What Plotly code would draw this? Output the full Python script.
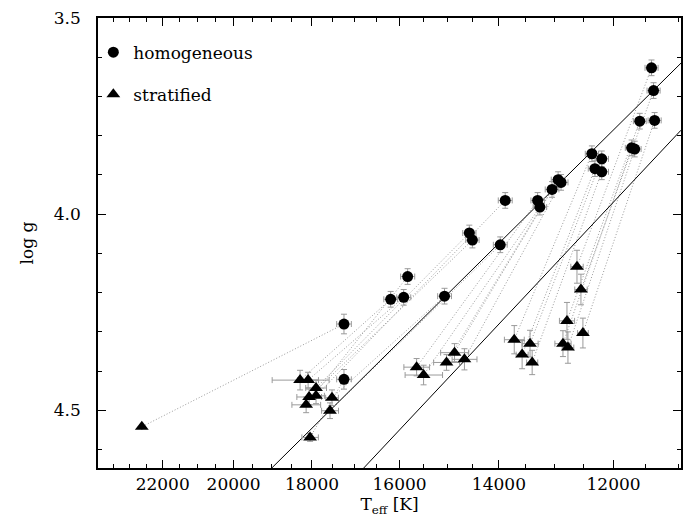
import math
import plotly.graph_objects as go

# ---- data (paired: index i of homogeneous <-> index i of stratified) ----
teff_hom = [17242, 17242, 16193, 15912, 15828, 15062, 14568, 14508, 13975, 13882,
            13290, 13250, 13035, 12929, 12878,
            12355, 12305, 12192, 12192, 11712, 11664, 11585, 11403, 11372, 11356]
logg_hom = [4.280, 4.421, 4.217, 4.212, 4.159, 4.209, 4.048, 4.066, 4.078, 3.965,
            3.965, 3.982, 3.937, 3.912, 3.919,
            3.846, 3.884, 3.859, 3.892, 3.831, 3.834, 3.763, 3.627, 3.685, 3.761]
eteff_hom = [170, 170, 150, 150, 150, 140, 130, 130, 130, 130,
             120, 120, 120, 120, 120,
             110, 110, 110, 110, 100, 100, 100, 100, 100, 100]
elogg_hom = [0.025, 0.025, 0.02, 0.02, 0.02, 0.02, 0.02, 0.02, 0.02, 0.02,
             0.02, 0.02, 0.02, 0.02, 0.02,
             0.02, 0.02, 0.02, 0.02, 0.02, 0.02, 0.02, 0.02, 0.02, 0.02]

teff_str = [22627, 18046, 18290, 18094, 18142, 17522, 17902, 18070, 17569, 17902,
            15638, 15492, 15022, 14861, 14664,
            13714, 13570, 13426, 13388, 12845, 12759, 12776, 12605, 12538, 12505]
logg_str = [4.542, 4.569, 4.423, 4.423, 4.486, 4.468, 4.443, 4.466, 4.501, 4.463,
            4.390, 4.410, 4.378, 4.353, 4.370,
            4.320, 4.358, 4.330, 4.378, 4.330, 4.340, 4.272, 4.134, 4.192, 4.303]
eteff_str = [0, 200, 700, 250, 350, 150, 250, 300, 200, 200,
             270, 390, 262, 280, 245,
             183, 110, 145, 100, 140, 100, 130, 105, 105, 90]
elogg_str = [0.0, 0.01, 0.025, 0.02, 0.02, 0.02, 0.02, 0.02, 0.02, 0.02,
             0.022, 0.025, 0.02, 0.023, 0.027,
             0.036, 0.036, 0.034, 0.031, 0.033, 0.04, 0.047, 0.042, 0.039, 0.038]

line1_teff = [19000, 10960]
line1_logg = [4.647, 3.615]
line2_teff = [16790, 10960]
line2_logg = [4.647, 3.786]

x_major = [22000, 20000, 18000, 16000, 14000, 12000]
x_minor = [v for v in range(11000, 24000, 500) if v not in x_major]
y_major = [3.5, 4.0, 4.5]
y_minor = [3.6, 3.7, 3.8, 3.9, 4.1, 4.2, 4.3, 4.4, 4.6]

FONT = "DejaVu Serif"
GRAY = "#9a9a9a"

# dotted connectors
cx, cy = [], []
for th, gh, ts, gs in zip(teff_hom, logg_hom, teff_str, logg_str):
    cx += [th, ts, None]
    cy += [gh, gs, None]

fig = go.Figure()
fig.add_trace(go.Scatter(x=cx, y=cy, mode="lines", showlegend=False,
                         line=dict(color=GRAY, width=1, dash="1px,2px"), hoverinfo="skip"))
fig.add_trace(go.Scatter(x=line1_teff, y=line1_logg, mode="lines", showlegend=False,
                         line=dict(color="black", width=1)))
fig.add_trace(go.Scatter(x=line2_teff, y=line2_logg, mode="lines", showlegend=False,
                         line=dict(color="black", width=1)))
fig.add_trace(go.Scatter(
    x=teff_hom, y=logg_hom, mode="markers", name="homogeneous", legendgroup="a",
    marker=dict(symbol="circle", size=11, color="black"),
    error_x=dict(type="data", array=eteff_hom, color=GRAY, thickness=1, width=3),
    error_y=dict(type="data", array=elogg_hom, color=GRAY, thickness=1, width=3)))
fig.add_trace(go.Scatter(
    x=teff_str, y=logg_str, mode="markers", name="stratified", legendgroup="b",
    marker=dict(symbol="triangle-up", size=12, color="black"),
    error_x=dict(type="data", array=eteff_str, color=GRAY, thickness=1, width=3),
    error_y=dict(type="data", array=elogg_str, color=GRAY, thickness=1, width=3)))

fig.update_layout(
    width=691, height=518,
    margin=dict(l=98, r=8, t=15, b=48),
    paper_bgcolor="white", plot_bgcolor="white",
    font=dict(family=FONT, size=17, color="black"),
    legend=dict(x=-0.008, y=0.963, xanchor="left", yanchor="top",
                bgcolor="rgba(0,0,0,0)", tracegroupgap=17,
                font=dict(family=FONT, size=17)),
    xaxis=dict(type="log", range=[math.log10(24000), math.log10(10960)],
               tickvals=x_major, ticktext=[str(v) for v in x_major],
               ticks="inside", ticklen=8, tickwidth=1, tickcolor="black",
               minor=dict(tickvals=x_minor, ticks="inside", ticklen=4, tickcolor="black"),
               showline=True, linecolor="black", linewidth=1.5, mirror="allticks",
               showgrid=False, zeroline=False,
               title=dict(text="T<sub>eff</sub> [K]", standoff=4,
                          font=dict(family=FONT, size=17))),
    yaxis=dict(range=[4.647, 3.5],
               tickvals=y_major, ticktext=["3.5", "4.0", "4.5"],
               ticks="inside", ticklen=8, tickwidth=1, tickcolor="black",
               minor=dict(tickvals=y_minor, ticks="inside", ticklen=4, tickcolor="black"),
               showline=True, linecolor="black", linewidth=1.5, mirror="allticks",
               showgrid=False, zeroline=False, ticklabelstandoff=12,
               title=dict(text="log g", standoff=16, font=dict(family=FONT, size=17))),
)
fig.write_html("out.html", config={"displayModeBar": False},
               post_script="document.body.style.margin='0';document.body.style.overflow='hidden';")
